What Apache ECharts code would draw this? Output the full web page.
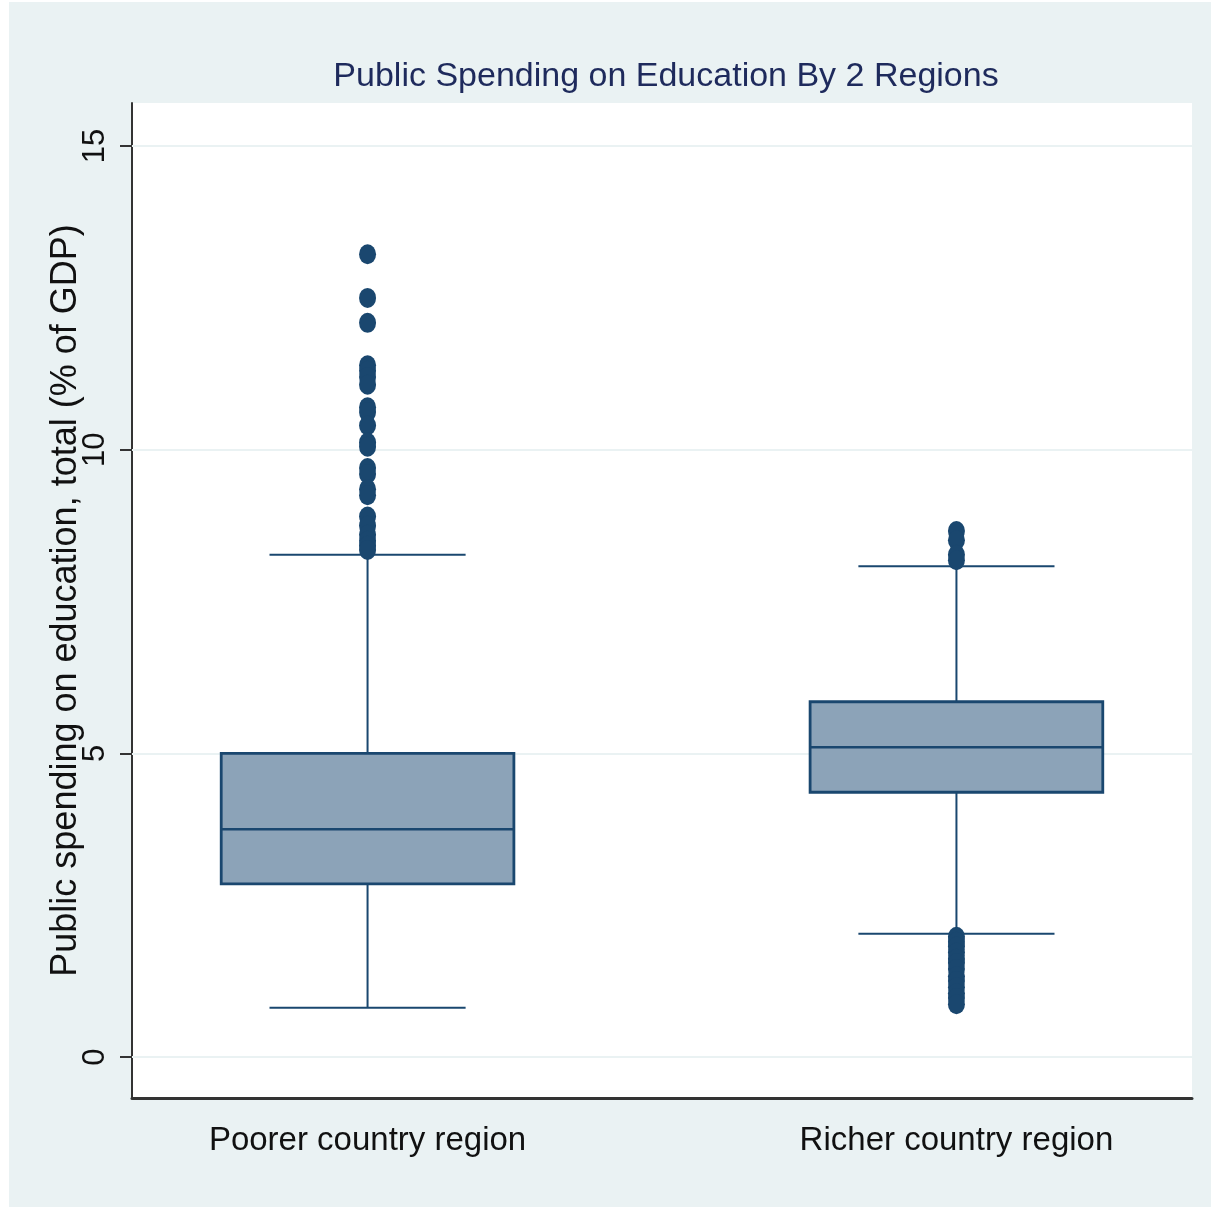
<!DOCTYPE html>
<html>
<head>
<meta charset="utf-8">
<script src="https://cdn.jsdelivr.net/npm/echarts@6/dist/echarts.min.js"></script>
<style>
  html, body { margin: 0; padding: 0; background: #fff; }
  #chart { position: absolute; left: 9px; top: 2px; width: 1202px; height: 1205px; }
</style>
</head>
<body>
<div id="chart"></div>
<script>
// categories and box statistics: [low whisker, Q1, median, Q3, high whisker]
const categories = ['Poorer country region', 'Richer country region']
const poorerBox = [0.81, 2.85, 3.75, 5.0, 8.27]
const richerBox = [2.03, 4.36, 5.1, 5.85, 8.08]
const poorerOutliers = [13.22, 12.5, 12.09, 11.39, 11.3, 11.2, 11.07, 10.7, 10.62, 10.4, 10.12, 10.05,
  9.7, 9.6, 9.35, 9.25, 8.9, 8.75, 8.6, 8.5, 8.42, 8.35]
const richerOutliers = [8.66, 8.51, 8.27, 8.18,
  1.98, 1.9, 1.82, 1.72, 1.62, 1.55, 1.45, 1.33, 1.25, 1.15, 1.05, 0.97, 0.87]
const yTicks = [0, 5, 10, 15]

const navy = '#1a476f'
const boxWidth = 0.497   // in x-axis units
const capWidth = 0.333

const boxData = [[0, ...poorerBox], [1, ...richerBox]]
const outlierData = [
  ...poorerOutliers.map(v => [0, v]),
  ...richerOutliers.map(v => [1, v])
]

const chart = echarts.init(document.getElementById('chart'))

const option = {
  backgroundColor: '#eaf2f3',
  animation: false,
  title: {
    text: 'Public Spending on Education By 2 Regions',
    left: 652,
    top: 70,
    textAlign: 'center',
    textVerticalAlign: 'middle',
    textStyle: {
      fontFamily: '"Liberation Sans", Arial, sans-serif',
      fontWeight: 'normal',
      fontSize: 34,
      color: '#1e2a5c'
    }
  },
  grid: {
    left: 123, right: 19, top: 101, bottom: 109,
    show: true, backgroundColor: '#fff', borderWidth: 0
  },
  xAxis: {
    type: 'value',
    min: -0.4,
    max: 1.4,
    axisLine: { onZero: false, lineStyle: { color: '#333', width: 3 } },
    axisTick: { show: false },
    splitLine: { show: false },
    axisLabel: {
      customValues: [0, 1],
      formatter: v => categories[Math.round(v)],
      fontFamily: '"Liberation Sans", Arial, sans-serif',
      fontSize: 33,
      color: '#111',
      margin: 26
    }
  },
  yAxis: {
    type: 'value',
    min: -0.675,
    max: 15.71,
    name: 'Public spending on education, total (% of GDP)',
    nameLocation: 'middle',
    nameRotate: 90,
    nameGap: 48,
    nameMoveOverlap: false,
    nameTextStyle: {
      fontFamily: '"Liberation Sans", Arial, sans-serif',
      fontSize: 36,
      color: '#111'
    },
    axisLine: { show: true, onZero: false, lineStyle: { color: '#333', width: 2 } },
    axisTick: { show: true, customValues: yTicks, length: 12, lineStyle: { color: '#333', width: 2 } },
    splitLine: { show: false },
    axisLabel: {
      customValues: yTicks,
      rotate: 90,
      fontFamily: '"Liberation Sans", Arial, sans-serif',
      fontSize: 31,
      color: '#111',
      margin: 21
    }
  },
  series: [
    {
      // grid lines only
      type: 'line',
      data: [],
      z: 1,
      silent: true,
      markLine: {
        z: 1,
        silent: true,
        symbol: 'none',
        label: { show: false },
        lineStyle: { color: '#eaf2f3', width: 2, type: 'solid' },
        data: yTicks.map(t => ({ yAxis: t }))
      }
    },
    {
      type: 'custom',
      z: 3,
      data: boxData,
      renderItem: (params, api) => {
        const x = api.value(0)
        const lo = api.coord([x, api.value(1)])
        const q1 = api.coord([x, api.value(2)])
        const med = api.coord([x, api.value(3)])
        const q3 = api.coord([x, api.value(4)])
        const hi = api.coord([x, api.value(5)])
        const bw = api.size([boxWidth, 0])[0]
        const cw = api.size([capWidth, 0])[0]
        const cx = lo[0]
        const line = { stroke: navy, lineWidth: 2 }
        return {
          type: 'group',
          children: [
            { type: 'line', shape: { x1: cx, y1: hi[1], x2: cx, y2: lo[1] }, style: line },
            { type: 'line', shape: { x1: cx - cw / 2, y1: hi[1], x2: cx + cw / 2, y2: hi[1] }, style: line },
            { type: 'line', shape: { x1: cx - cw / 2, y1: lo[1], x2: cx + cw / 2, y2: lo[1] }, style: line },
            {
              type: 'rect',
              shape: { x: cx - bw / 2, y: q3[1], width: bw, height: q1[1] - q3[1] },
              style: { fill: '#8ca3b8', stroke: navy, lineWidth: 2.8 }
            },
            { type: 'line', shape: { x1: cx - bw / 2, y1: med[1], x2: cx + bw / 2, y2: med[1] }, style: { stroke: navy, lineWidth: 2.5 } }
          ]
        }
      }
    },
    {
      type: 'scatter',
      z: 4,
      data: outlierData,
      symbol: 'circle',
      symbolSize: [17, 20],
      itemStyle: { color: navy, opacity: 1 }
    }
  ]
}

chart.setOption(option)
</script>
</body>
</html>
